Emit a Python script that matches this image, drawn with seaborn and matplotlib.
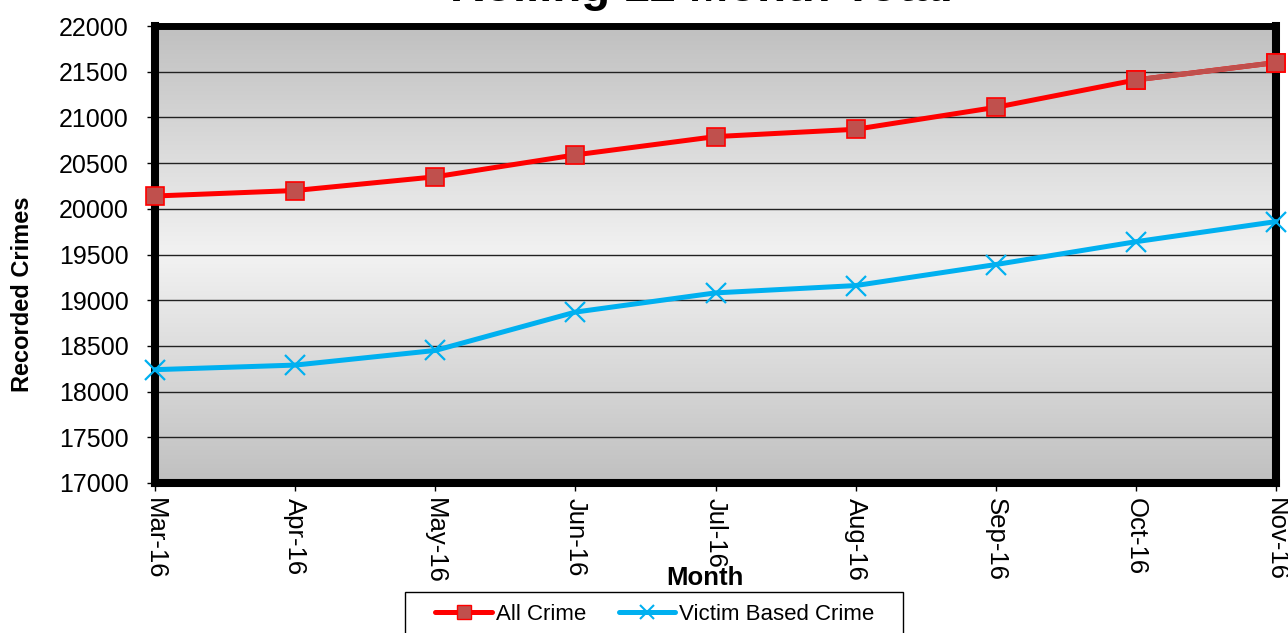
import numpy as np
import pandas as pd
import matplotlib
matplotlib.use("Agg")
import matplotlib.pyplot as plt
from matplotlib.colors import LinearSegmentedColormap
from matplotlib.lines import Line2D
from matplotlib.patches import Rectangle
import seaborn as sns

months = ["Mar-16", "Apr-16", "May-16", "Jun-16", "Jul-16", "Aug-16", "Sep-16", "Oct-16", "Nov-16"]
all_crime = [20140, 20200, 20350, 20590, 20790, 20870, 21110, 21410, 21600]
victim_crime = [18240, 18290, 18450, 18870, 19080, 19160, 19390, 19640, 19860]
y_ticks = list(range(17000, 22001, 500))

sns.set_style("white")
plt.rcParams['font.family'] = ['Liberation Sans', 'DejaVu Sans']
plt.rcParams['text.color'] = 'black'
plt.rcParams['xtick.color'] = 'black'
plt.rcParams['ytick.color'] = 'black'
plt.rcParams['axes.labelcolor'] = 'black'

fig = plt.figure(figsize=(12.88, 6.33), dpi=100)
ax = fig.add_axes([155/1288, 1-483/633, (1276-155)/1288, (483-26)/633])

# gradient background
cmap = LinearSegmentedColormap.from_list("bg", ["#c0c0c0", "#f2f2f2", "#c0c0c0"])
grad = np.linspace(0, 1, 256).reshape(-1, 1)
ax.imshow(grad, cmap=cmap, aspect='auto', extent=[0, 1, 0, 1],
          transform=ax.transAxes, zorder=0, interpolation='bicubic')

df = pd.DataFrame({"Month": months, "All Crime": all_crime, "Victim Based Crime": victim_crime})

sns.lineplot(data=df, x="Month", y="All Crime", ax=ax, color="#ff0000", lw=3.6,
             marker="s", markersize=13, markerfacecolor="#c0504d", markeredgecolor="#ff0000",
             markeredgewidth=1.2, zorder=4, sort=False, clip_on=False)
# lighter final segment as in the reference
ax.plot(months[-2:], all_crime[-2:], color="#c0504d", lw=3.6, zorder=4.5,
        solid_capstyle='butt', clip_on=False)
ax.plot(months[-2:], all_crime[-2:], ls='none', marker="s", markersize=13,
        markerfacecolor="#c0504d", markeredgecolor="#ff0000", markeredgewidth=1.2,
        zorder=5, clip_on=False)
sns.lineplot(data=df, x="Month", y="Victim Based Crime", ax=ax, color="#00b0f0", lw=3.6,
             marker="x", markersize=14, markeredgewidth=1.6, markeredgecolor="#00b0f0",
             zorder=4, sort=False, clip_on=False)

ax.set_xlim(0, len(months) - 1)
ax.set_ylim(17000, 22000)
ax.set_yticks(y_ticks)
ax.set_yticklabels([str(v) for v in y_ticks])
ax.set_xticks(range(len(months)))
ax.set_xticklabels(months, rotation=-90, ha='center', va='top')

for y in y_ticks[1:-1]:
    ax.axhline(y, color="#222222", lw=1.0, zorder=1)

for side in ["left", "bottom", "top", "right"]:
    ax.spines[side].set_visible(True)
    ax.spines[side].set_color("black")
    ax.spines[side].set_linewidth(5.8)
    ax.spines[side].set_zorder(3)
ax.spines["top"].set_linewidth(5.0)

ax.tick_params(axis='y', which='both', direction='out', length=6, width=1, color='black',
               pad=13, labelsize=18, left=True)
ax.tick_params(axis='x', which='both', direction='out', length=6, width=1, color='black',
               pad=5, labelsize=18.5, bottom=True)

ax.set_xlabel("")
ax.set_ylabel("")
fig.text(23/1288, 1-294/633, "Recorded Crimes", rotation=90, ha='center', va='center',
         fontsize=17, fontweight='bold')
fig.text(705/1288, 1-578/633, "Month", ha='center', va='center', fontsize=18.5,
         fontweight='bold')
fig.text(702/1288, 1-1/633, "Rolling 12 Month Total", ha='center', va='baseline',
         fontsize=34, fontweight='bold')

# legend box
fig.patches.append(Rectangle((405/1288, -0.05), (903-405)/1288, 0.05 + (633-592)/633,
                             transform=fig.transFigure, facecolor='white',
                             edgecolor='black', lw=1.0, zorder=1))
handles = [
    Line2D([], [], color="#ff0000", lw=3.6, marker="s", markersize=10,
           markerfacecolor="#c0504d", markeredgecolor="#ff0000"),
    Line2D([], [], color="#00b0f0", lw=3.6, marker="x", markersize=10, markeredgewidth=1.5),
]
leg = fig.legend(handles, ["All Crime", "Victim Based Crime"], loc='center',
                 bbox_to_anchor=(655/1288, 1-614/633), ncol=2, fontsize=16,
                 frameon=False, handlelength=2.55, handletextpad=0.18,
                 columnspacing=1.45, borderpad=0.0, borderaxespad=0)
leg.set_zorder(2)

fig.savefig("out.png", dpi=100)
